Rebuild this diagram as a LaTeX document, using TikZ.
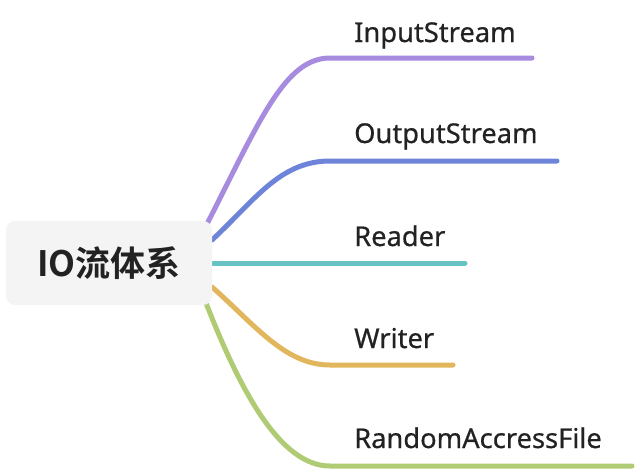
\documentclass[tikz,border=0pt]{standalone}
\usepackage{fontspec}
\setmainfont{Noto Sans}
\newfontfamily\leaffont[FakeBold=0.6]{Noto Sans}
\newfontfamily\cjkbold[BoldFont={Noto Sans CJK SC Bold}]{Noto Sans CJK SC}
\definecolor{boxfill}{HTML}{F4F4F4}
\definecolor{txt}{HTML}{222222}
\definecolor{cpurple}{HTML}{A68BDE}
\definecolor{cblue}{HTML}{6E84D8}
\definecolor{cteal}{HTML}{67C3C1}
\definecolor{corange}{HTML}{E1B65C}
\definecolor{cgreen}{HTML}{AFCB74}
\begin{document}
\begin{tikzpicture}[x=1pt,y=-1pt,
  branch/.style={line width=5pt,line cap=round},
  leaf/.style={anchor=base west,inner sep=0pt,text=txt,font=\leaffont\fontsize{27.3}{30}\selectfont},
  rootbox/.style={fill=boxfill,rounded corners=9pt,minimum width=206pt,minimum height=84pt,inner sep=0pt,text=txt,font=\cjkbold\bfseries\fontsize{35}{40}\selectfont}]
\useasboundingbox (0,0) rectangle (636,472);
% leaf labels
\node[leaf] (l1) at (354,42) {InputStream};
\node[leaf] (l2) at (354,143) {OutputStream};
\node[leaf] (l3) at (354,246) {Reader};
\node[leaf] (l4) at (354,348) {Writer};
\node[leaf] (l5) at (354,448) {RandomAccressFile};
% end coordinates
\coordinate (e1) at (532,58);
\coordinate (e2) at (557,161);
\coordinate (e3) at (465,263);
\coordinate (e4) at (453,365);
\coordinate (e5) at (632,466);
\coordinate (s1) at (208,222);
\coordinate (s2) at (212,240);
\coordinate (s3) at (212,263);
\coordinate (s4) at (212,287);
\coordinate (s5) at (206,303);
% branches
\draw[branch,cpurple] (s1) .. controls (260,120) and (285,58) .. (330,58) -- (e1);
\draw[branch,cblue] (s2) .. controls (255,200) and (280,161) .. (330,161) -- (e2);
\draw[branch,cteal] (s3) -- (e3);
\draw[branch,corange] (s4) .. controls (255,325) and (285,365) .. (330,365) -- (e4);
\draw[branch,cgreen] (s5) .. controls (240,390) and (280,466) .. (330,466) -- (e5);
% root
\node[rootbox] (root) at (109,263) {IO流体系};
\end{tikzpicture}
\end{document}
